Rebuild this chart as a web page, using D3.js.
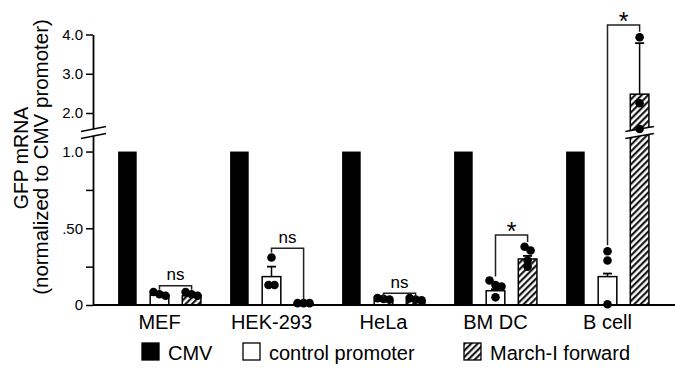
<!DOCTYPE html>
<html><head><meta charset="utf-8">
<script src="https://cdn.jsdelivr.net/npm/d3@7"></script>
<style>
body{margin:0;background:#fff;}
svg{display:block;font-family:"Liberation Sans",Arial,Helvetica,sans-serif;}
</style>
</head><body><svg id="c" width="675" height="374"></svg>
<script>
// ---- data ----
const categories = ["MEF", "HEK-293", "HeLa", "BM DC", "B cell"];
const seriesNames = ["CMV", "control promoter", "March-I forward"];
const cmvValues = [1, 1, 1, 1, 1];
const controlMean = [0.065, 0.185, 0.03, 0.093, 0.185];
const controlErr = [0.008, 0.065, 0.005, 0.01, 0.02];
const marchMean = [0.06, 0.01, 0.03, 0.30, 2.48];
const marchErr = [0.008, 0, 0.005, 0.02, 1.3];
const controlPoints = [[0.085, 0.07, 0.06], [0.31, 0.13, 0.13], [0.045, 0.04, 0.035], [0.16, 0.13, 0.12, 0.05], [0.35, 0.29, 0.005]];
const marchPoints = [[0.085, 0.07, 0.06], [0.012, 0.012, 0.012], [0.045, 0.035, 0.03], [0.38, 0.355, 0.29, 0.25], [3.93, 2.25, 1.58]];
const yTicks = [0, 0.25, 0.5, 0.75, 1, 2, 3, 4];
const yTickLabels = ["0", "", ".50", "", "1.0", "2.0", "3.0", "4.0"];
const sigLabels = ["ns", "ns", "ns", "*", "*"];
const bracketTop = [0.125, 0.37, 0.076, 0.456, 4.24];
const bracketLeftEnd = [0.10, 0.34, 0.05, 0.185, 0.39];
const bracketRightEnd = [0.10, 0.03, 0.05, 0.41, 4.07];

// ---- scales ----
const svg = d3.select("#c");
const axisX = 93, baseY = 305;
const y = d3.scaleLinear().domain([0, 1.1, 1.6, 4]).range([baseY, 136.2, 128.7, 34.5]);
const x0 = d3.scaleBand().domain(categories).range([103.5, 663.5]);
const x1 = d3.scaleBand().domain(seriesNames).range([0, x0.bandwidth()]).paddingInner(0.42).paddingOuter(0.4545);
const bw = x1.bandwidth();

// hatch pattern
const defs = svg.append("defs");
const pat = defs.append("pattern").attr("id", "hatch").attr("patternUnits", "userSpaceOnUse")
  .attr("width", 4.6).attr("height", 4.6).attr("patternTransform", "rotate(45)");
pat.append("rect").attr("width", 4.6).attr("height", 4.6).attr("fill", "#fff");
pat.append("line").attr("x1", 1.2).attr("y1", -1).attr("x2", 1.2).attr("y2", 6).attr("stroke", "#000").attr("stroke-width", 2);

// ---- bars ----
const fills = {"CMV": "#000", "control promoter": "#fff", "March-I forward": "url(#hatch)"};
const groups = categories.map((c, i) => ({
  cat: c,
  bars: [
    {s: "CMV", v: cmvValues[i], e: 0, pts: []},
    {s: "control promoter", v: controlMean[i], e: controlErr[i], pts: controlPoints[i]},
    {s: "March-I forward", v: marchMean[i], e: marchErr[i], pts: marchPoints[i]}
  ]
}));

const g = svg.append("g");
groups.forEach(gr => {
  gr.bars.forEach(b => {
    const bx = x0(gr.cat) + x1(b.s);
    const cx = bx + bw / 2;
    if (b.e > 0) {
      g.append("line").attr("x1", cx).attr("x2", cx).attr("y1", y(b.v)).attr("y2", y(b.v + b.e))
        .attr("stroke", "#000").attr("stroke-width", 1.5);
      g.append("line").attr("x1", cx - 4.5).attr("x2", cx + 4.5).attr("y1", y(b.v + b.e)).attr("y2", y(b.v + b.e))
        .attr("stroke", "#000").attr("stroke-width", 1.8);
    }
    g.append("rect").attr("x", bx).attr("y", y(b.v)).attr("width", bw).attr("height", baseY - y(b.v))
      .attr("fill", fills[b.s]).attr("stroke", "#000").attr("stroke-width", b.s === "CMV" ? 0 : 1.5);
    if (b.v > 1.6) {
      const yb = (y(1.1) + y(1.6)) / 2;
      const x1b = bx - 5, x2b = bx + bw + 5, dy = 2.5;
      g.append("path").attr("d", `M${x1b},${yb + 3.5 + dy}L${x2b},${yb + 3.5 - dy}L${x2b},${yb - 3.5 - dy}L${x1b},${yb - 3.5 + dy}Z`)
        .attr("fill", "#fff");
      [-3.5, 3.5].forEach(o => g.append("line").attr("x1", x1b).attr("x2", x2b)
        .attr("y1", yb + o + dy).attr("y2", yb + o - dy).attr("stroke", "#000").attr("stroke-width", 1.5));
    }
    const ps = b.pts.map(v => ({v, py: y(v)})).sort((a, c) => a.py - c.py);
    const rows = [];
    ps.forEach(p => {
      const last = rows[rows.length - 1];
      if (last && p.py - last[last.length - 1].py < 6) last.push(p); else rows.push([p]);
    });
    rows.forEach(r => r.forEach((p, k) => {
      g.append("circle").attr("cx", cx + (k - (r.length - 1) / 2) * 6).attr("cy", p.py).attr("r", 4.3).attr("fill", "#000");
    }));
  });
});

categories.forEach((c, i) => {
  const xl = x0(c) + x1("control promoter") + bw / 2;
  const xr = x0(c) + x1("March-I forward") + bw / 2;
  const yt = y(bracketTop[i]);
  g.append("path").attr("d", `M${xl},${y(bracketLeftEnd[i])}V${yt}H${xr}V${y(bracketRightEnd[i])}`)
    .attr("fill", "none").attr("stroke", "#222").attr("stroke-width", 1.5);
  const star = sigLabels[i] === "*";
  g.append("text").attr("x", (xl + xr) / 2).attr("y", star ? yt + 5 : yt - 5.5)
    .attr("text-anchor", "middle").attr("font-size", star ? 25 : 17).attr("fill", "#000").text(sigLabels[i]);
});

// ---- axes ----
const yAxis = d3.axisLeft(y).tickValues(yTicks).tickSize(7).tickPadding(3).tickSizeOuter(0)
  .tickFormat((d, i) => yTickLabels[i]);
const ya = svg.append("g").attr("transform", `translate(${axisX},0)`).call(yAxis);
ya.select(".domain").attr("stroke", "#000").attr("stroke-width", 1.8);
ya.selectAll(".tick line").attr("stroke", "#000").attr("stroke-width", 1.5);
ya.selectAll(".tick text").attr("font-size", 15).attr("fill", "#000")
  .attr("font-family", "'Liberation Sans',Arial,sans-serif");

// axis break
{
  const yb = (y(1.1) + y(1.6)) / 2, dy = 2.5;
  svg.append("rect").attr("x", axisX - 3).attr("y", yb - 3.5).attr("width", 6).attr("height", 7).attr("fill", "#fff");
  [-3.5, 3.5].forEach(o => svg.append("line").attr("x1", axisX - 12).attr("x2", axisX + 13)
    .attr("y1", yb + o + dy).attr("y2", yb + o - dy).attr("stroke", "#000").attr("stroke-width", 1.5));
}

// x axis
svg.append("line").attr("x1", axisX).attr("x2", 675).attr("y1", baseY).attr("y2", baseY)
  .attr("stroke", "#000").attr("stroke-width", 1.8);
svg.append("g").selectAll("text").data(categories).join("text")
  .attr("x", d => x0(d) + x1("control promoter") + bw / 2).attr("y", 329)
  .attr("text-anchor", "middle").attr("font-size", 20).attr("fill", "#000").text(d => d);

// y label
svg.append("text").attr("transform", "translate(28,158) rotate(-90)").attr("text-anchor", "middle")
  .attr("font-size", 19.5).attr("fill", "#000").text("GFP mRNA");
svg.append("text").attr("transform", "translate(48,157) rotate(-90)").attr("text-anchor", "middle")
  .attr("font-size", 20.5).attr("fill", "#000").text("(normalized to CMV promoter)");

// legend
const legX = [142, 243, 464];
const leg = svg.append("g");
seriesNames.forEach((s, i) => {
  leg.append("rect").attr("x", legX[i]).attr("y", 343).attr("width", 17).attr("height", 17)
    .attr("fill", fills[s]).attr("stroke", "#000").attr("stroke-width", 1.3);
  leg.append("text").attr("x", legX[i] + 26).attr("y", 359.5).attr("font-size", 20).attr("fill", "#000").text(s);
});
</script>
</body></html>
